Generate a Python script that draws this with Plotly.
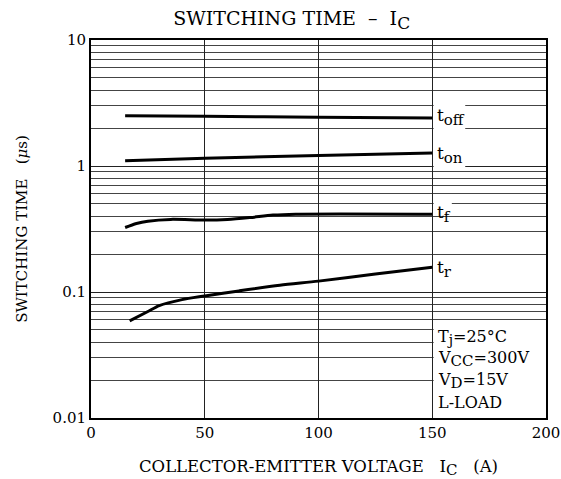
import plotly.graph_objects as go

# ---- data ----
x_toff = [15, 50, 100, 150]
y_toff = [2.5, 2.48, 2.44, 2.4]

x_ton = [15, 50, 100, 150]
y_ton = [1.10, 1.15, 1.21, 1.27]

x_tf = [15, 20, 25, 35, 50, 60, 70, 80, 90, 150]
y_tf = [0.325, 0.35, 0.365, 0.377, 0.372, 0.376, 0.39, 0.408, 0.415, 0.415]

x_tr = [17, 25, 30, 40, 50, 65, 83, 100, 125, 150]
y_tr = [0.059, 0.070, 0.078, 0.087, 0.093, 0.102, 0.113, 0.122, 0.139, 0.157]

x_ticks = [0, 50, 100, 150, 200]
y_major = [0.01, 0.1, 1, 10]
y_major_text = ["0.01", "0.1", "1", "10"]

FONT = "DejaVu Serif"

# minor grid values 2..9 per decade
y_grid = []
for d in [0.01, 0.1, 1]:
    for k in range(2, 10):
        y_grid.append(round(d * k, 4))


def sub(s, size):
    return "<sub><span style='font-size:%dpx'>%s</span></sub>" % (size, s)


fig = go.Figure()
for xs, ys in [(x_toff, y_toff), (x_ton, y_ton), (x_tf, y_tf), (x_tr, y_tr)]:
    fig.add_trace(go.Scatter(x=xs, y=ys, mode="lines",
                             line=dict(color="black", width=3, shape="spline", smoothing=0.8),
                             showlegend=False, hoverinfo="skip"))

# white backgrounds behind labels (between grid and traces)
rects = [
    (150.6, 164.5, 0.97, 3.1),
    (150.6, 158.6, 0.42, 0.55),
    (150.6, 200, 0.01, 0.055),
]
for x0, x1, y0, y1 in rects:
    fig.add_shape(type="rect", xref="x", yref="y", x0=x0, x1=x1, y0=y0, y1=y1,
                  fillcolor="white", line=dict(width=0), layer="between")

labels = [("t" + sub("off", 15), 0.385), ("t" + sub("on", 15), 0.085),
          ("t" + sub("f", 15), -0.38), ("t" + sub("r", 15), -0.815)]
for txt, ly in labels:
    fig.add_annotation(x=151.3, y=ly, xref="x", yref="y", text=txt, showarrow=False,
                       xanchor="left", yanchor="middle",
                       font=dict(family=FONT, size=17, color="black"))

cond = [("T" + sub("j", 14) + "=25°C", -1.36), ("V" + sub("CC", 15) + "=300V", -1.535),
        ("V" + sub("D", 15) + "=15V", -1.71), ("L-LOAD", -1.875)]
for txt, ly in cond:
    fig.add_annotation(x=151.5, y=ly, xref="x", yref="y", text=txt, showarrow=False,
                       xanchor="left", yanchor="middle",
                       font=dict(family=FONT, size=16, color="black"))

fig.update_layout(
    width=561, height=479, autosize=False,
    margin=dict(l=91, r=15, t=40, b=61, autoexpand=False),
    paper_bgcolor="white", plot_bgcolor="white",
    title=dict(text="SWITCHING TIME  –  I" + sub("C", 17), x=0.52, xanchor="center",
               y=0.962, yanchor="middle",
               font=dict(family=FONT, size=19, color="black")),
    font=dict(family=FONT, color="black"),
)
fig.update_xaxes(range=[0, 200], tickvals=x_ticks, ticktext=[str(v) for v in x_ticks],
                 automargin=False,
                 showgrid=True, gridcolor="#222", gridwidth=1.3,
                 showline=True, linecolor="black", linewidth=2, mirror=True,
                 ticks="", tickfont=dict(family=FONT, size=15), zeroline=False,
                 title=dict(text="COLLECTOR-EMITTER VOLTAGE   I" + sub("C", 15) + "   (A)",
                            font=dict(family=FONT, size=16.5), standoff=19))
fig.update_yaxes(type="log", range=[-2, 1], tickvals=y_major, ticktext=y_major_text,
                 automargin=False,
                 showgrid=True, gridcolor="#222", gridwidth=1.2,
                 minor=dict(tickmode="array", tickvals=y_grid, showgrid=True,
                            gridcolor="#444", gridwidth=1, ticks=""),
                 showline=True, linecolor="black", linewidth=2, mirror=True,
                 ticks="", tickfont=dict(family=FONT, size=15), zeroline=False,
                 title=dict(text="SWITCHING TIME   (<i>μ</i>s)",
                            font=dict(family=FONT, size=15), standoff=21))

fig.write_html("out.html", config={"displayModeBar": False},
               post_script="document.body.style.margin='0';document.body.style.overflow='hidden';")
